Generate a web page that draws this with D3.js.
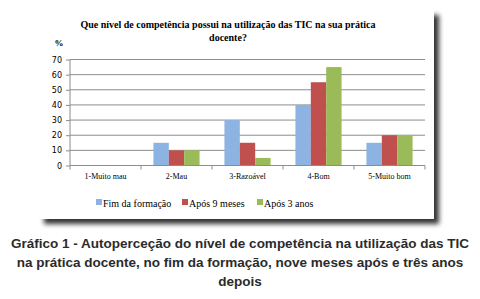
<!DOCTYPE html>
<meta charset="utf-8">
<style>
body { margin: 0; background: #fff; }
svg { display: block; }
.grid line { stroke: #8c8c8c; stroke-width: 1px; }
.axis path, .axis line { stroke: #8c8c8c; }
.axis text { font-family: "Liberation Serif", serif; font-size: 8px; fill: #000; }
.axis--y text { font-family: "DejaVu Sans", sans-serif; font-size: 8px; }
.title { font-family: "Liberation Serif", serif; font-weight: bold; font-size: 10px; }
.legend text { font-family: "Liberation Serif", serif; font-size: 10px; }
.caption { font-family: "Liberation Sans", Arial, sans-serif; font-weight: bold; font-size: 13.5px; fill: #2b2b2b; }
</style>
<svg width="480" height="299"></svg>
<script src="https://d3js.org/d3.v7.min.js"></script>
<script>
var categories = ["1-Muito mau", "2-Mau", "3-Razoável", "4-Bom", "5-Muito bom"];
var seriesNames = ["Fim da formação", "Após 9 meses", "Após 3 anos"];
var fimFormacao = [0, 15, 30, 40, 15];
var apos9Meses = [0, 10, 15, 55, 20];
var apos3Anos = [0, 10, 5, 65, 20];
var yTicks = [0, 10, 20, 30, 40, 50, 60, 70];
var colors = ["#8db3e2", "#c0504d", "#9bbb59"];

var series = [fimFormacao, apos9Meses, apos3Anos];

var svg = d3.select("svg");

// shadow behind the chart box
var defs = svg.append("defs");
var f = defs.append("filter").attr("id", "shadow")
    .attr("x", "-5%").attr("y", "-5%").attr("width", "115%").attr("height", "120%");
f.append("feGaussianBlur").attr("in", "SourceAlpha").attr("stdDeviation", 2.5);
f.append("feOffset").attr("dx", 5).attr("dy", 5).attr("result", "b");
f.append("feComponentTransfer").append("feFuncA").attr("type", "linear").attr("slope", 0.8);
var m = f.append("feMerge");
m.append("feMergeNode");
m.append("feMergeNode").attr("in", "SourceGraphic");

svg.append("rect")
    .attr("x", 39).attr("y", 10).attr("width", 395).attr("height", 209)
    .attr("fill", "#fff")
    .attr("filter", "url(#shadow)");

var margin = {left: 70, right: 55, top: 59.5, bottom: 133.5},
    width = 480 - margin.left - margin.right,
    height = 299 - margin.top - margin.bottom,
    g = svg.append("g").attr("transform", "translate(" + margin.left + "," + margin.top + ")");

var x0 = d3.scaleBand().domain(categories).range([0, width]).paddingInner(0).paddingOuter(0);
var x1 = d3.scaleBand().domain(d3.range(series.length))
    .range([x0.bandwidth() * 0.175, x0.bandwidth() * 0.825]).padding(0);
var y = d3.scaleLinear().domain([0, 70]).range([height, 0]);

g.append("g").attr("class", "grid")
  .selectAll("line").data(yTicks.slice(1)).enter().append("line")
    .attr("x1", 0).attr("x2", width)
    .attr("y1", function(d) { return y(d); })
    .attr("y2", function(d) { return y(d); });

// bars
series.forEach(function(vals, si) {
  g.append("g").selectAll("rect").data(vals).enter().append("rect")
      .attr("x", function(d, i) { return x0(categories[i]) + x1(si); })
      .attr("y", function(d) { return y(d); })
      .attr("width", x1.bandwidth())
      .attr("height", function(d) { return height - y(d); })
      .attr("fill", colors[si]);
});

g.append("g")
    .attr("class", "axis axis--y")
    .call(d3.axisLeft(y).tickValues(yTicks).tickSize(4).tickPadding(4))
  .call(function(a) { a.select(".domain").attr("d", "M0,0V" + height); });

var xAxis = g.append("g")
    .attr("class", "axis axis--x")
    .attr("transform", "translate(0," + height + ")");
xAxis.append("line").attr("x1", 0).attr("x2", width).attr("stroke", "#8c8c8c");
xAxis.selectAll(".tk").data(d3.range(categories.length + 1)).enter().append("line")
    .attr("x1", function(i) { return i * x0.bandwidth(); })
    .attr("x2", function(i) { return i * x0.bandwidth(); })
    .attr("y1", 0).attr("y2", 4).attr("stroke", "#8c8c8c");
xAxis.selectAll("text").data(categories).enter().append("text")
    .attr("x", function(d) { return x0(d) + x0.bandwidth() / 2; })
    .attr("y", 13)
    .attr("text-anchor", "middle")
    .text(function(d) { return d; });

svg.append("text").attr("class", "title").attr("x", 228).attr("y", 28).attr("text-anchor", "middle")
    .text("Que nível de competência possui na utilização das TIC na sua prática");
svg.append("text").attr("class", "title").attr("x", 228).attr("y", 41).attr("text-anchor", "middle")
    .text("docente?");
svg.append("text").attr("class", "title").attr("x", 59).attr("y", 46).attr("text-anchor", "middle")
    .style("font-size", "9px").text("%");

// legend
var legendX = [96, 182, 257];
var legend = svg.append("g").attr("class", "legend");
seriesNames.forEach(function(name, i) {
  legend.append("rect").attr("x", legendX[i]).attr("y", 199).attr("width", 6).attr("height", 6).attr("fill", colors[i]);
  legend.append("text").attr("x", legendX[i] + 7).attr("y", 207).text(name);
});

var captionLines = [
  "Gráfico 1 - Autoperceção do nível de competência na utilização das TIC",
  "na prática docente, no fim da formação, nove meses após e três anos",
  "depois"
];
svg.selectAll(".caption").data(captionLines).enter().append("text")
    .attr("class", "caption")
    .attr("x", 240)
    .attr("y", function(d, i) { return 248 + i * 19; })
    .attr("text-anchor", "middle")
    .text(function(d) { return d; });
</script>
